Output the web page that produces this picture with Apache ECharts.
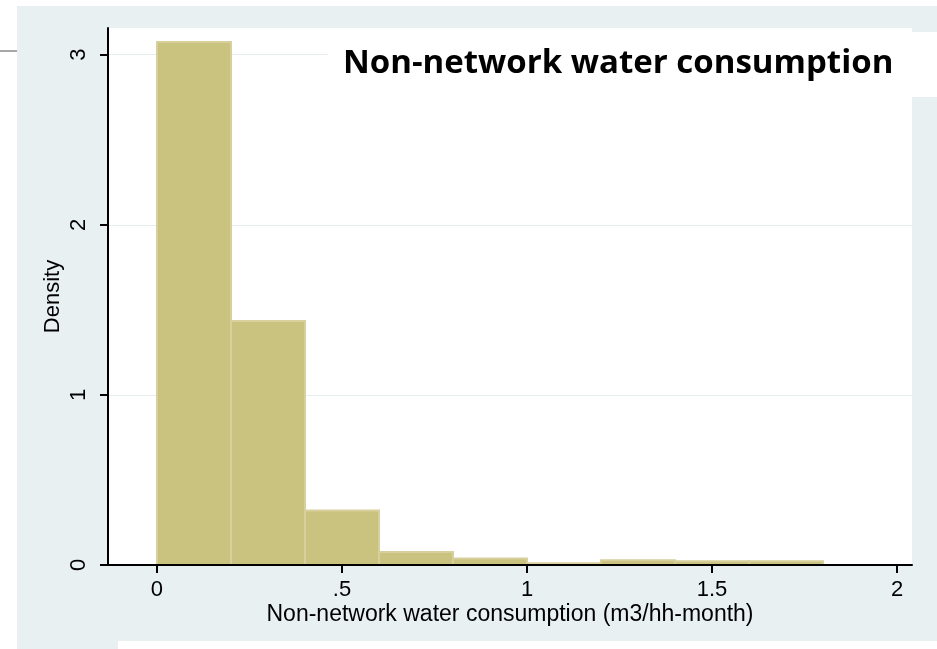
<!DOCTYPE html>
<html>
<head>
<meta charset="utf-8">
<script src="https://cdn.jsdelivr.net/npm/echarts@6/dist/echarts.min.js"></script>
<style>
  html, body { margin: 0; padding: 0; background: #fff; }
  #chart { width: 937px; height: 649px; }
</style>
</head>
<body>
<div id="chart"></div>
<script>
// Histogram bins (m3/hh-month) and their densities
const binLeft  = [0, 0.2, 0.4, 0.6, 0.8, 1.0, 1.2, 1.4, 1.6];
const binRight = [0.2, 0.4, 0.6, 0.8, 1.0, 1.2, 1.4, 1.6, 1.8];
const density  = [3.075, 1.435, 0.32, 0.077, 0.038, 0.01, 0.028, 0.022, 0.022];

// Axis ticks and their labels
const xTicks = [0, 0.5, 1, 1.5, 2];
const xTickLabels = ['0', '.5', '1', '1.5', '2'];
const yTicks = [0, 1, 2, 3];
const yTickLabels = ['0', '1', '2', '3'];

const titleText = 'Non-network water consumption';
const xName = 'Non-network water consumption (m3/hh-month)';
const yName = 'Density';

const BG = '#e8f0f2';
const FILL = '#cac27f';
const EDGE = '#d7d09d';
const FONT = 'Liberation Sans';

const chart = echarts.init(document.getElementById('chart'), null, { renderer: 'canvas' });

const option = {
  animation: false,
  backgroundColor: BG,
  title: {
    text: titleText,
    left: 343,
    top: 47,
    padding: 0,
    z: 6,
    textStyle: { fontFamily: 'Open Sans', fontWeight: 'bold', fontSize: 33, color: '#000' }
  },
  grid: {
    left: 108, right: 25, top: 28, bottom: 84,
    show: true, backgroundColor: '#fff', borderWidth: 0
  },
  xAxis: {
    type: 'value',
    min: -0.1324,
    max: 2.0405,
    z: 3,
    axisLine: { show: true, onZero: false, lineStyle: { color: '#000', width: 2 } },
    axisTick: { show: true, customValues: xTicks, length: 8, lineStyle: { color: '#000', width: 2 } },
    axisLabel: {
      customValues: xTicks,
      formatter: v => xTickLabels[xTicks.indexOf(v)],
      fontFamily: FONT, fontSize: 22, color: '#000', margin: 14
    },
    splitLine: { show: false },
    name: xName,
    nameLocation: 'middle',
    nameGap: 38,
    nameMoveOverlap: false,
    nameTextStyle: { fontFamily: FONT, fontSize: 23, color: '#000' }
  },
  yAxis: {
    type: 'value',
    min: 0,
    max: 3.157,
    z: 0,
    axisLine: { show: true, onZero: false, lineStyle: { color: '#000', width: 2 } },
    axisTick: { show: true, customValues: yTicks, length: 8, lineStyle: { color: '#000', width: 2 } },
    axisLabel: {
      customValues: yTicks,
      formatter: v => yTickLabels[yTicks.indexOf(v)],
      rotate: 90,
      fontFamily: FONT, fontSize: 22, color: '#000', margin: 18
    },
    splitLine: { show: true, lineStyle: { color: '#e5edef', width: 1 } },
    name: yName,
    nameLocation: 'middle',
    nameGap: 44,
    nameMoveOverlap: false,
    nameTextStyle: { fontFamily: FONT, fontSize: 22, color: '#000' }
  },
  graphic: [
    // white page margins around the shaded panel
    { type: 'rect', silent: true, z: 1, shape: { x: 0, y: 0, width: 17, height: 649 }, style: { fill: '#fff' } },
    { type: 'rect', silent: true, z: 1, shape: { x: 0, y: 0, width: 937, height: 6 }, style: { fill: '#fff' } },
    { type: 'rect', silent: true, z: 1, shape: { x: 118, y: 641, width: 819, height: 8 }, style: { fill: '#fff' } },
    { type: 'line', silent: true, z: 2, shape: { x1: 0, y1: 51, x2: 17, y2: 51 }, style: { stroke: '#8a8a8a', lineWidth: 1.5 } },
    // white box behind the heading
    { type: 'rect', silent: true, z: 5, shape: { x: 328, y: 32, width: 609, height: 65 }, style: { fill: '#fff' } }
  ],
  series: [{
    type: 'custom',
    z: 2,
    clip: true,
    data: binLeft.map((x0, i) => [x0, binRight[i], density[i]]),
    encode: { x: [0, 1], y: 2 },
    renderItem: function (params, api) {
      const p0 = api.coord([api.value(0), 0]);
      const p1 = api.coord([api.value(1), api.value(2)]);
      return {
        type: 'rect',
        shape: { x: p0[0], y: p1[1], width: p1[0] - p0[0], height: p0[1] - p1[1] },
        style: { fill: FILL, stroke: EDGE, lineWidth: 2 }
      };
    }
  }]
};

chart.setOption(option);
</script>
</body>
</html>
